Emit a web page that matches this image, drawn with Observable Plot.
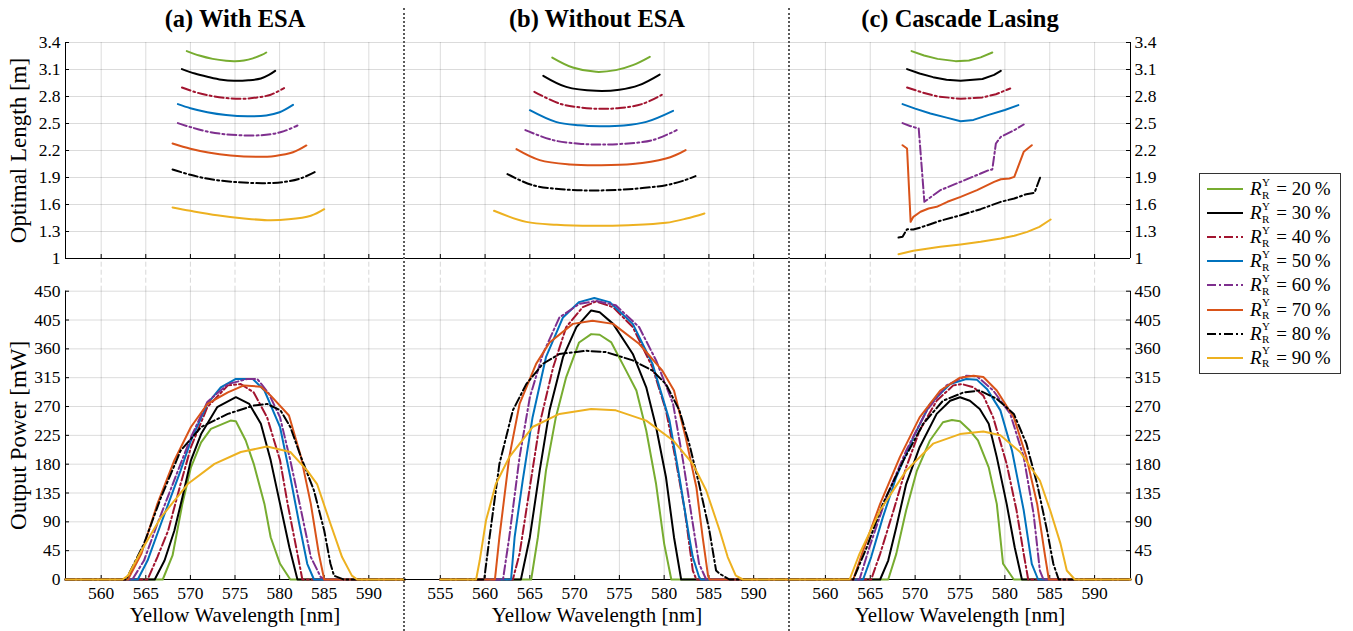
<!DOCTYPE html>
<html><head><meta charset="utf-8">
<script src="https://cdn.jsdelivr.net/npm/d3@7"></script>
<script src="https://cdn.jsdelivr.net/npm/@observablehq/plot@0.6"></script>
<style>
html,body{margin:0;padding:0;background:#fff;}
#root{position:relative;width:1353px;height:631px;overflow:hidden;font-family:"Liberation Serif","DejaVu Serif",serif;}
#root svg.chart{position:absolute;left:0;top:0;}
#root svg.chart, #root svg.chart text{font-family:"Liberation Serif","DejaVu Serif",serif !important;}
.sep{position:absolute;top:8px;height:623px;width:0;border-left:2.5px dotted #5a5a5a;}
#legend{position:absolute;left:1199px;top:173px;width:140px;height:196px;border:1px solid #333;background:#fff;box-sizing:content-box;padding-top:3px;}
.row{height:24.1px;display:flex;align-items:center;font-size:19px;white-space:nowrap;}
.row svg{margin-left:7px;margin-right:7px;}
.ss{position:relative;display:inline-block;width:10px;height:1em;}
.ss span{position:absolute;left:0.5px;font-size:11px;}
</style></head><body><div id="root"></div>
<script>
// ---------- data ----------
const reflectivities = [20, 30, 40, 50, 60, 70, 80, 90];
const seriesColors = ["#77AC30", "#000000", "#A2142F", "#0072BD", "#7E2F8E", "#D95319", "#000000", "#EDB120"];
const seriesDash = [null, null, "9,3,2,3", null, "9,3,2,3", null, "9,3,2,3", null];
const panelTitles = ["(a) With ESA", "(b) Without ESA", "(c) Cascade Lasing"];
const wavelengthTicksA = [560, 565, 570, 575, 580, 585, 590];
const wavelengthTicksB = [555, 560, 565, 570, 575, 580, 585, 590];
const wavelengthTicksC = [560, 565, 570, 575, 580, 585, 590];
const lengthTicks = [1, 1.3, 1.6, 1.9, 2.2, 2.5, 2.8, 3.1, 3.4];
const powerTicks = [0, 45, 90, 135, 180, 225, 270, 315, 360, 405, 450];

// optimal length [m] vs wavelength [nm], one list per reflectivity (20..90 %)
const lengthWithESA = [
  [[569.6,3.304],[571,3.255],[572.5,3.218],[574,3.197],[575,3.193],[576,3.201],[577,3.224],[578,3.262],[578.5,3.289]],
  [[569.05,3.104],[570.5,3.055],[571.9,3.019],[573.5,2.985],[574.9,2.974],[576.5,2.98],[577.9,3.0],[578.8,3.04],[579.5,3.085]],
  [[569.05,2.9],[570.5,2.85],[571.9,2.815],[573.8,2.785],[575.6,2.774],[577.5,2.79],[579,2.82],[580.5,2.893]],
  [[568.6,2.715],[570,2.67],[571.9,2.626],[574,2.595],[576.4,2.581],[578.5,2.59],[580,2.625],[581.5,2.707]],
  [[568.6,2.504],[570,2.46],[571.9,2.41],[574,2.38],[577.1,2.367],[579,2.38],[580.5,2.415],[582,2.478]],
  [[568,2.278],[570,2.22],[572,2.178],[574.5,2.145],[577.5,2.13],[579.5,2.14],[581.5,2.18],[583,2.256]],
  [[568,1.989],[570,1.93],[572,1.885],[575,1.85],[578.25,1.837],[580.5,1.85],[582.5,1.895],[584,1.963]],
  [[568,1.567],[570,1.53],[573,1.48],[576,1.445],[578.6,1.426],[581,1.435],[583.5,1.475],[585,1.548]]
];
const lengthWithoutESA = [
  [[567.5,3.233],[569.8,3.122],[572.4,3.074],[574.6,3.093],[576.5,3.148],[578.4,3.241]],
  [[566.5,3.03],[569.06,2.907],[572.4,2.863],[575,2.875],[577.2,2.926],[579.5,3.044]],
  [[565.5,2.852],[568.3,2.722],[570.5,2.68],[572.8,2.663],[575,2.672],[577.5,2.715],[580,2.833]],
  [[565,2.648],[567.9,2.518],[570.5,2.48],[572.8,2.47],[575.5,2.478],[578,2.518],[581,2.641]],
  [[564.5,2.426],[567.6,2.315],[570.5,2.275],[572.8,2.267],[575.5,2.275],[578.7,2.315],[581.4,2.426]],
  [[563.5,2.215],[566.1,2.093],[569.5,2.045],[572.8,2.037],[576.5,2.05],[580.2,2.111],[581.3,2.15],[582.4,2.204]],
  [[562.5,1.937],[565.3,1.815],[568.5,1.77],[572,1.756],[576,1.77],[580.2,1.815],[582,1.86],[583.5,1.915]],
  [[561,1.53],[564.6,1.407],[568,1.375],[572,1.363],[576,1.37],[580.2,1.396],[582.5,1.444],[584.5,1.5]]
];
const lengthCascade = [
  [[569.6,3.304],[571,3.255],[572.5,3.218],[574.5,3.193],[576,3.2],[577.3,3.235],[578.6,3.289]],
  [[569.1,3.104],[570.5,3.055],[572,3.015],[573.5,2.985],[575.07,2.974],[577.5,2.995],[578.8,3.04],[579.55,3.085]],
  [[569.1,2.9],[570.8,2.845],[572.5,2.8],[575.07,2.774],[577.5,2.79],[579,2.825],[580.6,2.889]],
  [[568.6,2.715],[570,2.665],[571.7,2.611],[573.5,2.565],[575.07,2.526],[576.5,2.54],[578.1,2.593],[580,2.65],[581.5,2.704]],
  [[568.6,2.504],[569.5,2.47],[570.4,2.444],[571.03,1.63],[572.8,1.759],[575.07,1.852],[577.3,1.944],[578.2,1.981],[578.6,1.99],[579.0,2.278],[579.55,2.352],[581.05,2.426],[582.1,2.489]],
  [[568.6,2.259],[569.1,2.222],[569.5,1.407],[569.8,1.463],[570.6,1.519],[571.5,1.556],[572.4,1.574],[573.6,1.63],[575.07,1.685],[576.9,1.759],[578.8,1.852],[579.55,1.881],[580.5,1.889],[581.05,1.907],[582.1,2.185],[583.0,2.259]],
  [[568.15,1.233],[568.6,1.241],[569.1,1.326],[569.8,1.322],[570.6,1.344],[572.8,1.419],[575.07,1.481],[577.3,1.548],[579.55,1.63],[581.05,1.667],[582.4,1.715],[583.3,1.73],[584.0,1.919]],
  [[568.15,1.048],[569.8,1.085],[572.8,1.13],[575.07,1.156],[577.3,1.185],[579.55,1.222],[581.05,1.252],[582.5,1.296],[583.85,1.352],[585.1,1.433]]
];

// output power [mW] vs wavelength [nm]
const powerWithESA = [
  [[556,0],[566.9,0],[568,37.5],[569.1,118],[570.06,175],[571.2,214],[572.3,235],[574.5,248],[575.1,247],[576.2,217],[577.1,180.5],[578.3,118],[579,66],[580.05,24.5],[581.2,0],[594,0]],
  [[556,0],[566,0],[567.1,29.6],[568.2,76],[569.1,128],[570.06,186],[571.2,227],[573,269],[575.1,284.5],[576.6,274],[577.9,243],[579,186],[580.05,118],[581.1,50],[582,0],[594,0]],
  [[556,0],[565.2,0],[566.3,35],[567.5,76],[568.9,149],[570.06,206.5],[571.9,269],[574.2,303],[575.65,305],[577.1,292],[578.6,253],[580.05,186],[580.9,118],[582,40],[582.55,0],[594,0]],
  [[556,0],[564.1,0],[565.2,29.6],[566.7,87],[568.9,170],[570.06,217],[571.9,274],[573.4,300],[575.1,313],[577,313],[578.3,295],[580.05,238],[581.2,160],[582.2,87],[583.1,24.5],[583.85,0],[594,0]],
  [[556,0],[563.5,0],[564.8,29.6],[566.3,87],[568.9,180.5],[570.06,222],[571.9,277],[574.2,305],[576.4,313],[577.5,313],[578.8,290],[580.05,253],[581.2,186],[582.4,108],[583.5,35],[584.6,4],[585,0],[594,0]],
  [[556,0],[563,0],[564.5,40],[566.3,118],[568.2,186],[570.06,238],[571.9,274],[574.2,292],[576,303],[577.9,301],[579,287],[581.05,256],[582.4,191],[583.5,118],[584.4,40],[585,0],[594,0]],
  [[556,0],[562.8,0],[564.8,56],[566.7,128],[568.9,201],[571.2,238],[574.2,258.5],[577.1,271.5],[578.6,274],[580.1,264],[581.2,238],[582.4,191],[583.85,139],[585,76.5],[585.7,24.5],[586.1,6],[587.2,0],[594,0]],
  [[556,0],[562.4,0],[563,6],[564.5,45],[566.7,97],[569.7,149],[572.7,180.5],[575.65,199],[578.6,207.5],[581.2,199],[583.1,170],[584.2,149],[585.7,87],[587,35],[588.1,6],[588.7,0],[594,0]]
];
const powerWithoutESA = [
  [[555,0],[565.15,0],[565.9,66],[566.8,170],[567.9,253],[569.06,316],[570.5,370],[571.85,383],[572.8,382],[574.1,370],[575.75,326],[576.9,295],[578,232.5],[579.1,149],[580,56],[580.8,0],[594,0]],
  [[555,0],[564,0],[565,66],[566.1,170],[567.2,264],[568.7,347],[570.2,394],[571.85,420],[572.8,417],[574.3,399],[576.5,352],[578,300],[579.1,238],[580.2,160],[581.1,66],[581.9,0],[594,0]],
  [[555,0],[563.1,0],[563.85,40],[565,144],[566.1,243],[567.6,331],[569.06,394],[570.9,425],[572.4,434],[574.3,425],[576.5,394],[578.7,331],[580.2,264],[581.3,186],[582.3,108],[583.2,14],[583.6,0],[594,0]],
  [[555,0],[562.9,0],[563.3,66],[564.2,154.5],[565.3,253],[566.8,347],[568.7,409],[570.5,433],[572.2,439.5],[573.9,433],[576.5,399],[578.7,336.6],[580.6,248],[581.7,160],[582.8,66],[583.2,35],[583.9,4],[584.1,0],[594,0]],
  [[555,0],[562,0],[562.7,66],[563.85,191],[565,284.5],[566.45,352],[568.3,409],[570.5,430],[572.4,435],[574.6,428],[577.2,394],[579.1,342],[581,274],[582.1,186],[583.2,87],[583.9,24.5],[584.7,0],[594,0]],
  [[555,0],[561.1,0],[561.6,66],[562.7,191],[563.85,274],[565.7,336.6],[567.2,370],[569.8,399],[572,404],[574.3,399],[577.2,368],[579.8,326],[581.1,295],[582.4,222],[583.6,144],[584.3,66],[584.9,6],[585.05,0],[594,0]],
  [[555,0],[559.9,0],[560.5,66],[561.6,180.5],[563.1,264],[564.6,305],[566.45,336.6],[568.3,352],[571.3,357],[573.5,355],[576.5,342],[578.7,326],[580.2,305],[581.7,264],[582.8,212],[583.9,149],[585.05,76.5],[585.8,14],[586.2,9],[587.3,0],[594,0]],
  [[555,0],[559,0],[559.4,29.6],[560.1,92],[561.2,149],[562.7,191],[565.3,238],[568.3,258.5],[571.85,266],[574.6,264],[578,248],[581,217],[583.2,180.5],[584.7,139],[586.2,76.5],[587.1,35],[588,6],[588.8,0],[594,0]]
];
const powerCascade = [
  [[556,0],[567,0],[567.9,40],[569,108],[570.2,170],[571.65,217],[573.1,245.5],[574.1,249],[575,247],[576.1,232.5],[577,217],[578.2,175],[579.1,118],[579.8,24.5],[581,0],[594,0]],
  [[556,0],[566.1,0],[567,29.6],[567.9,81.7],[569,149],[570.5,206.5],[572.4,258.5],[573.9,279],[575,284.5],[576.1,279],[577.2,266],[578.2,243],[579.1,191],[580.2,118],[581.1,50],[581.9,0],[594,0]],
  [[556,0],[565.1,0],[566.1,40],[567.6,108],[569,175],[570.5,232.5],[572.4,279],[574.25,303],[575.2,305],[576.5,300],[577.6,287],[578.7,253],[580.2,180.5],[581.3,108],[582.1,40],[582.6,0],[594,0]],
  [[556,0],[564.2,0],[565.1,35],[566.4,97],[567.9,160],[569.8,222],[571.65,274],[573.9,305],[575.7,313],[576.9,311.6],[578,297.5],[579.5,264],[580.8,201],[582.1,108],[583,24.5],[583.7,0],[594,0]],
  [[556,0],[563.8,0],[564.9,50],[566.8,128.5],[569,201],[571.3,264],[573.5,303],[575.7,318],[576.9,317],[578.7,295],[580.6,258.5],[582.1,191],[583.2,102.5],[583.9,14],[584.3,0],[594,0]],
  [[556,0],[563.1,0],[564.2,45],[566.1,118],[568.3,191],[570.5,253],[572.8,295],[575,315],[576.5,318],[577.6,316],[579.1,295],[581,253],[582.4,191],[583.6,118],[584.5,35],[584.9,0],[594,0]],
  [[556,0],[563.1,0],[564.6,50],[566.4,118],[568.7,186],[570.9,243],[573.1,279],[575.4,292],[577.2,295],[579.1,282],[581,258.5],[582.4,212],[583.6,149],[584.7,76.5],[585.4,24.5],[586,0],[594,0]],
  [[556,0],[562.7,0],[563.8,40],[566.1,108],[569,170],[572,212],[575,227],[577.6,231],[579.5,225],[581.7,199],[583.9,154.5],[585.05,108],[586.2,56],[586.9,14],[587.8,0],[594,0]]
];

// ---------- layout ----------
const W = 1353, H = 631;
const FONT = '"Liberation Serif","DejaVu Serif",serif';
const TOP = {t: 42, b: 258};
const BOT = {t: 290.7, b: 579};
const panels = [
  {left: 65, right: 404, domain: [556, 594], ticks: wavelengthTicksA, yAxis: "left", length: lengthWithESA, power: powerWithESA, smooth: true},
  {left: 404, right: 789, domain: [551, 594], ticks: wavelengthTicksB, yAxis: null, length: lengthWithoutESA, power: powerWithoutESA, smooth: true},
  {left: 789, right: 1130, domain: [556, 594], ticks: wavelengthTicksC, yAxis: "right", length: lengthCascade, power: powerCascade, smooth: false}
];
const gridStyle = {stroke: "#000", strokeOpacity: 0.14, strokeWidth: 1};

function seriesMarks(list, curve) {
  return list.map((pts, i) => Plot.line(pts, {
    x: d => d[0], y: d => d[1], stroke: seriesColors[i], strokeWidth: 2,
    strokeDasharray: seriesDash[i] || undefined, curve, strokeLinejoin: "round"
  }));
}

function chart(p, kind, idx) {
  const isTop = kind === "top";
  const fr = isTop ? TOP : BOT;
  const yDomain = isTop ? [1, 3.4] : [0, 450];
  const yTicks = isTop ? lengthTicks : powerTicks;
  const [x0, x1] = p.domain;
  const xTickLen = (yDomain[1] - yDomain[0]) * 4 / (fr.b - fr.t);
  const yTickLen = (x1 - x0) * 4 / (p.right - p.left);
  const marks = [
    Plot.gridX({ticks: p.ticks, ...gridStyle}),
    Plot.gridY({ticks: yTicks, ...gridStyle})
  ];
  if (!isTop) {
    marks.push(Plot.ruleX(p.ticks, {y1: 450, y2: 501, stroke: "#000", strokeOpacity: 0.16, strokeDasharray: "5,3"}));
  }
  marks.push(Plot.ruleY([yDomain[0]], {stroke: "#000", strokeWidth: 1}));
  marks.push(Plot.ruleX(p.ticks, {y1: yDomain[0], y2: yDomain[0] + xTickLen, stroke: "#000"}));
  if (p.yAxis === "left") {
    marks.push(Plot.ruleX([x0], {stroke: "#000"}));
    marks.push(Plot.ruleY(yTicks, {x1: x0, x2: x0 + yTickLen, stroke: "#000"}));
    marks.push(Plot.axisY({ticks: yTicks, anchor: "left", tickSize: 0, tickPadding: 5, fontSize: 17.5, fontFamily: FONT, label: null, tickFormat: d => String(d)}));
    marks.push(Plot.text([isTop ? "Optimal Length [m]" : "Output Power [mW]"], {
      text: d => d, frameAnchor: "left", textAnchor: "middle", rotate: -90, dx: -40, lineAnchor: "bottom", fontSize: 23, fontFamily: FONT
    }));
  } else if (p.yAxis === "right") {
    marks.push(Plot.ruleX([x1], {stroke: "#000"}));
    marks.push(Plot.ruleY(yTicks, {x1: x1 - yTickLen, x2: x1, stroke: "#000"}));
    marks.push(Plot.axisY({ticks: yTicks, anchor: "right", tickSize: 0, tickPadding: 4, fontSize: 17.5, fontFamily: FONT, label: null, tickFormat: d => String(d)}));
  }
  const curve = isTop && p.smooth ? "catmull-rom" : "linear";
  marks.push(...seriesMarks(isTop ? p.length : p.power, curve));
  if (isTop) {
    marks.push(Plot.text([panelTitles[idx]], {
      text: d => d, frameAnchor: "top", textAnchor: "middle", dy: -16, lineAnchor: "bottom", fontSize: 24.5, fontWeight: "bold", fontFamily: FONT
    }));
  } else {
    marks.push(Plot.axisX({ticks: p.ticks, anchor: "bottom", tickSize: 0, tickPadding: 7, fontSize: 17.5, fontFamily: FONT, label: null, tickFormat: d => String(d)}));
    marks.push(Plot.text(["Yellow Wavelength [nm]"], {
      text: d => d, frameAnchor: "bottom", textAnchor: "middle", dy: 42, lineAnchor: "bottom", fontSize: 21, fontFamily: FONT
    }));
  }
  const svg = Plot.plot({
    width: W, height: H,
    marginLeft: p.left, marginRight: W - p.right,
    marginTop: fr.t, marginBottom: H - fr.b,
    x: {domain: p.domain, axis: null},
    y: {domain: yDomain, axis: null},
    style: {background: "transparent", overflow: "visible", color: "#000"},
    marks
  });
  svg.classList.add("chart");
  return svg;
}

const root = document.getElementById("root");
panels.forEach((p, i) => {
  root.appendChild(chart(p, "top", i));
  root.appendChild(chart(p, "bottom", i));
});
[404, 789].forEach(x => {
  const d = document.createElement("div");
  d.className = "sep";
  d.style.left = (x - 1.25) + "px";
  root.appendChild(d);
});

// legend
const legend = document.createElement("div");
legend.id = "legend";
reflectivities.forEach((r, i) => {
  const row = document.createElement("div");
  row.className = "row";
  const dash = seriesDash[i] ? `stroke-dasharray="9,3,2,3"` : "";
  row.innerHTML = `<svg width="36" height="6"><line x1="0" y1="3" x2="36" y2="3" stroke="${seriesColors[i]}" stroke-width="2" ${dash}/></svg>` +
    `<i>R</i><span class="ss"><span style="top:-4px">Y</span><span style="top:9px">R</span></span>` +
    `<span>&nbsp;=&nbsp;${r}&thinsp;%</span>`;
  legend.appendChild(row);
});
root.appendChild(legend);
</script></body></html>
